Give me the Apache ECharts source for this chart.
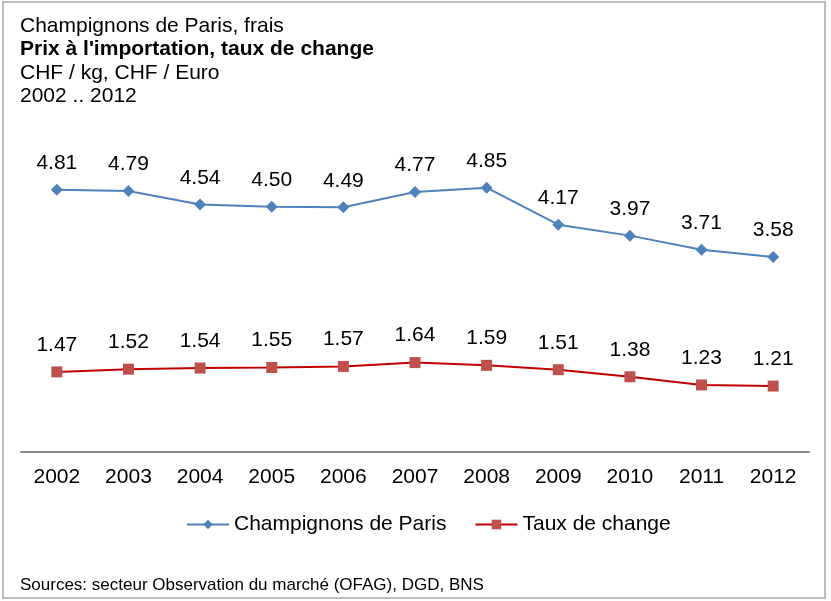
<!DOCTYPE html>
<html>
<head>
<meta charset="utf-8">
<script src="https://cdn.jsdelivr.net/npm/echarts@6/dist/echarts.min.js"></script>
<style>
  body { margin: 0; background: #fff; }
  #chart { width: 831px; height: 601px; }
</style>
</head>
<body>
<div id="chart"></div>
<script>
// données
const years = ['2002', '2003', '2004', '2005', '2006', '2007', '2008', '2009', '2010', '2011', '2012'];
const champignons = [4.81, 4.79, 4.54, 4.50, 4.49, 4.77, 4.85, 4.17, 3.97, 3.71, 3.58];
const tauxChange = [1.47, 1.52, 1.54, 1.55, 1.57, 1.64, 1.59, 1.51, 1.38, 1.23, 1.21];

const FONT = '"Liberation Sans", Arial, sans-serif';

const chart = echarts.init(document.getElementById('chart'));

chart.setOption({
  animation: false,
  textStyle: { fontFamily: FONT },
  title: {
    left: 15,
    top: 9,
    text: '{a|Champignons de Paris, frais}\n{b|Prix à l\'importation, taux de change}\n{a|CHF / kg, CHF / Euro}\n{a|2002 .. 2012}',
    textStyle: {
      rich: {
        a: { fontSize: 21, color: '#000', fontWeight: 'normal', fontFamily: FONT, lineHeight: 23.5 },
        b: { fontSize: 21, color: '#000', fontWeight: 'bold', fontFamily: FONT, lineHeight: 23.5 }
      }
    }
  },
  grid: { left: 21, right: 22, top: 125, bottom: 149 },
  xAxis: {
    type: 'category',
    data: years,
    boundaryGap: true,
    axisLine: { lineStyle: { color: '#868686', width: 2 } },
    axisTick: { show: false },
    axisLabel: { color: '#000', fontSize: 21, margin: 15, fontFamily: FONT }
  },
  yAxis: {
    type: 'value',
    min: 0,
    max: 6,
    show: false,
    splitLine: { show: false }
  },
  legend: {
    top: 509,
    left: 181,
    itemGap: 28,
    itemWidth: 42,
    itemHeight: 12,
    textStyle: { fontSize: 21, color: '#000', fontFamily: FONT },
    data: ['Champignons de Paris', 'Taux de change']
  },
  series: [
    {
      name: 'Champignons de Paris',
      type: 'line',
      data: champignons,
      symbol: 'diamond',
      symbolSize: 12,
      lineStyle: { color: '#4F81BD', width: 2 },
      itemStyle: { color: '#4F81BD' },
      label: {
        show: true, position: 'top', distance: 10,
        fontSize: 21, color: '#000', fontFamily: FONT,
        formatter: p => p.value.toFixed(2)
      }
    },
    {
      name: 'Taux de change',
      type: 'line',
      data: tauxChange,
      symbol: 'rect',
      symbolSize: 11,
      lineStyle: { color: '#C00000', width: 2 },
      itemStyle: { color: '#C0504D' },
      label: {
        show: true, position: 'top', distance: 11,
        fontSize: 21, color: '#000', fontFamily: FONT,
        formatter: p => p.value.toFixed(2)
      }
    }
  ],
  graphic: [
    {
      type: 'rect',
      shape: { x: 3, y: 2, width: 822, height: 596 },
      style: { fill: null, stroke: '#a6a6a6', lineWidth: 1.5 },
      silent: true
    },
    {
      type: 'text',
      left: 20,
      top: 577,
      style: {
        text: 'Sources: secteur Observation du marché (OFAG), DGD, BNS',
        font: '17px "Liberation Sans", Arial, sans-serif',
        fill: '#000'
      }
    }
  ]
});
</script>
</body>
</html>
